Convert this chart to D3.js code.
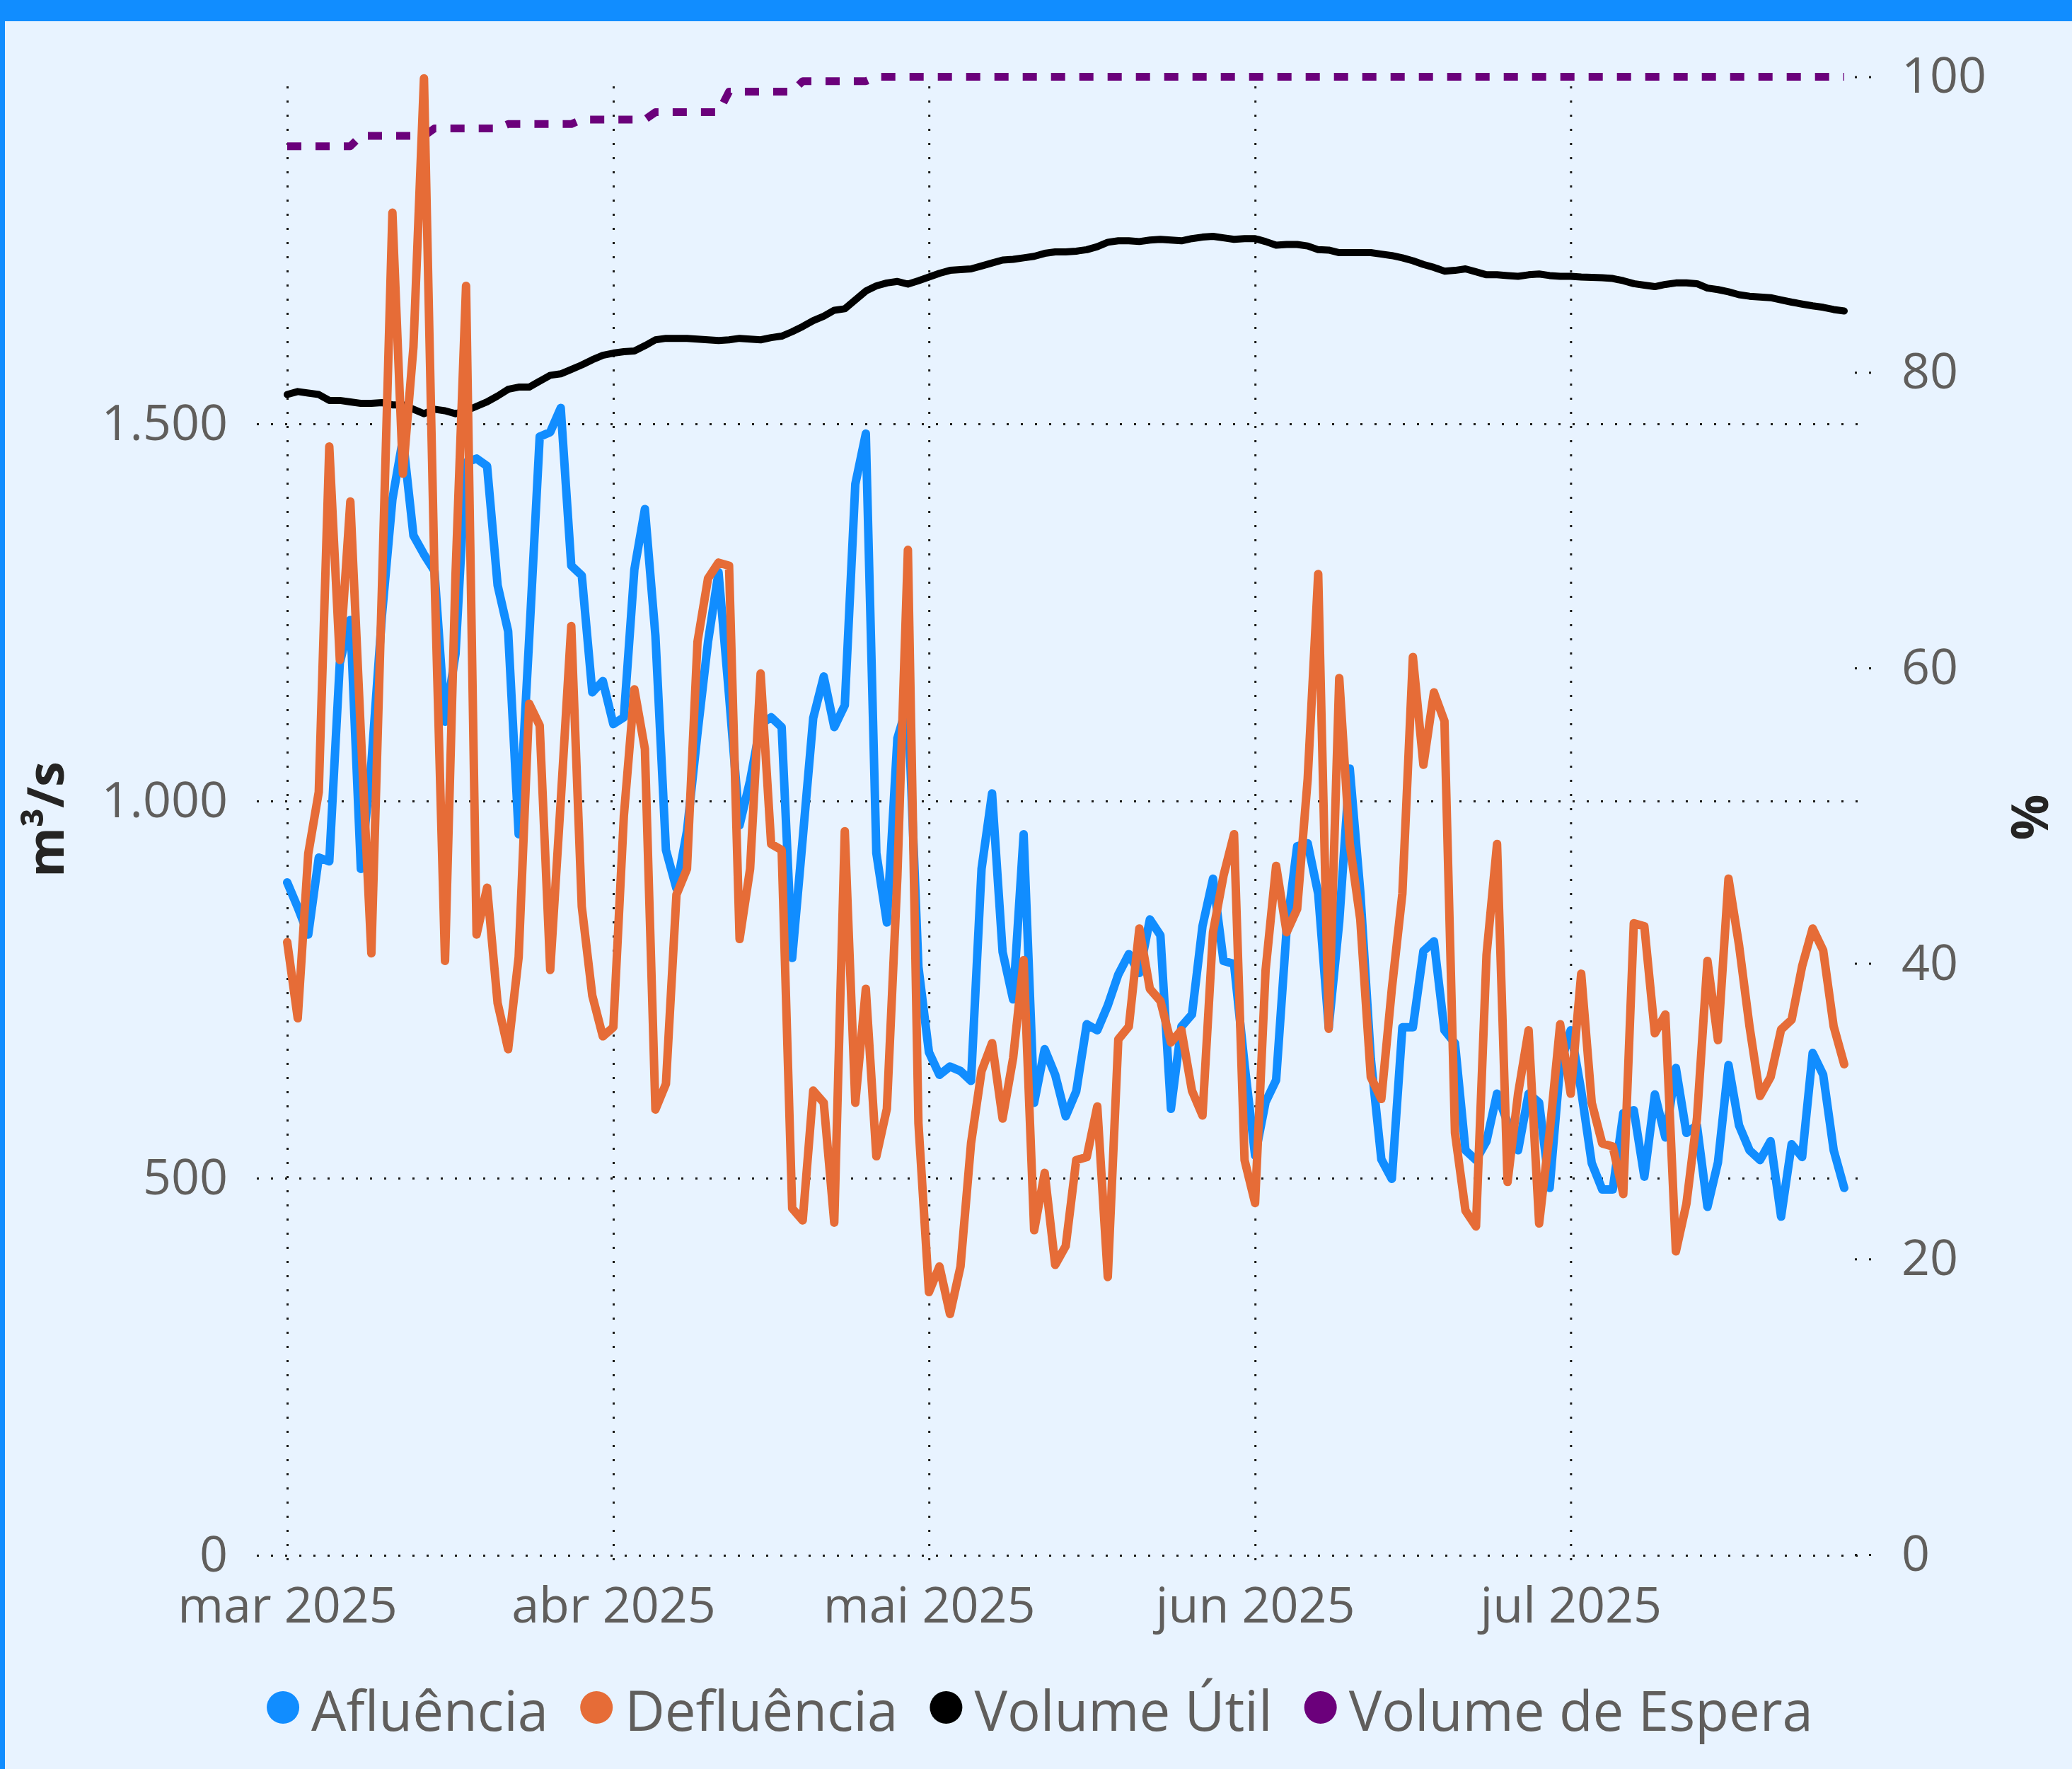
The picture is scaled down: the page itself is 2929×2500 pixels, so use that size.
<!DOCTYPE html>
<html>
<head>
<meta charset="utf-8">
<script src="https://cdn.jsdelivr.net/npm/d3@7"></script>
<style>
    html, body { margin: 0; padding: 0; background: #E8F3FF; }
    svg { display: block; }
    text { font-family: "Segoe UI", "Open Sans", sans-serif; }
</style>
</head>
<body>
<svg id="chart" width="2929" height="2500"></svg>
<script>
var startDay = "2025-03-01";

var afluencia = [
    892, 859, 823, 925, 920, 1183, 1240, 910, 1050, 1245,
    1400, 1480, 1352, 1327, 1305, 1105, 1195, 1449, 1454, 1444,
    1286, 1225, 956, 1215, 1483, 1489, 1521, 1312, 1299, 1144,
    1159, 1102, 1111, 1307, 1387, 1219, 935, 884, 960, 1090,
    1211, 1303, 1140, 968, 1027, 1102, 1111, 1098, 792, 950,
    1110, 1165, 1098, 1127, 1420, 1487, 931, 839, 1083, 1130,
    780, 667, 637, 648, 642, 629, 910, 1010, 800, 737,
    956, 600, 671, 637, 582, 615, 704, 696, 729, 770,
    797, 772, 843, 822, 592, 701, 717, 834, 897, 788,
    784, 651, 530, 601, 630, 830, 940, 944, 877, 700,
    840, 1043, 880, 659, 525, 499, 700, 700, 801, 814,
    696, 679, 537, 524, 549, 612, 574, 537, 612, 600,
    487, 650, 696, 616, 520, 485, 485, 586, 590, 502,
    611, 554, 646, 560, 570, 462, 521, 650, 570, 537,
    524, 549, 449, 545, 528, 666, 637, 537, 487
];

var defluencia = [
    813, 712, 930, 1012, 1470, 1187, 1397, 1090, 798, 1280,
    1780, 1434, 1602, 1958, 1300, 788, 1300, 1683, 823, 885,
    732, 671, 793, 1129, 1100, 776, 1000, 1232, 860, 742,
    688, 700, 980, 1148, 1069, 591, 625, 876, 910, 1211,
    1295, 1316, 1312, 817, 910, 1169, 943, 935, 460, 444,
    616, 600, 441, 960, 600, 751, 529, 592, 900, 1333,
    573, 349, 383, 320, 383, 546, 642, 679, 579, 659,
    789, 431, 507, 385, 410, 524, 528, 595, 369, 684,
    701, 831, 751, 735, 680, 696, 616, 583, 826, 901,
    956, 524, 467, 776, 914, 826, 857, 1029, 1301, 698,
    1163, 943, 843, 634, 605, 751, 877, 1191, 1048, 1144,
    1106, 560, 457, 436, 796, 943, 495, 612, 696, 440,
    561, 704, 612, 771, 600, 546, 542, 479, 838, 834,
    692, 717, 403, 466, 579, 788, 683, 897, 809, 701,
    609, 634, 697, 710, 781, 831, 802, 701, 651
];

var volumeUtil = [
    78.5, 78.7, 78.6, 78.5, 78.1, 78.1, 78.0, 77.9, 77.9, 77.95,
    77.8, 77.8, 77.5, 77.2, 77.5, 77.4, 77.2, 77.4, 77.7, 78.0,
    78.4, 78.85, 79.0, 79.0, 79.4, 79.8, 79.9, 80.2, 80.5, 80.85,
    81.15, 81.3, 81.4, 81.45, 81.8, 82.2, 82.3, 82.3, 82.3, 82.25,
    82.2, 82.15, 82.2, 82.3, 82.25, 82.2, 82.35, 82.45, 82.75, 83.1,
    83.5, 83.8, 84.2, 84.3, 84.9, 85.5, 85.85, 86.05, 86.15, 85.97,
    86.2, 86.45, 86.7, 86.9, 86.95, 87.0, 87.2, 87.4, 87.6, 87.65,
    87.75, 87.85, 88.05, 88.15, 88.15, 88.2, 88.3, 88.5, 88.8, 88.9,
    88.9, 88.85, 88.95, 89.0, 88.95, 88.9, 89.05, 89.15, 89.2, 89.1,
    89.0, 89.05, 89.05, 88.85, 88.6, 88.65, 88.65, 88.55, 88.3, 88.27,
    88.1, 88.1, 88.1, 88.1, 88.0, 87.9, 87.75, 87.55, 87.3, 87.1,
    86.85, 86.9, 87.0, 86.8, 86.6, 86.6, 86.55, 86.5, 86.6, 86.65,
    86.55, 86.5, 86.5, 86.45, 86.42, 86.4, 86.35, 86.2, 86.0, 85.9,
    85.8, 85.95, 86.05, 86.05, 86.0, 85.7, 85.6, 85.45, 85.25, 85.15,
    85.1, 85.05, 84.9, 84.75, 84.62, 84.5, 84.4, 84.25, 84.15
];

var volumeEspera = [
    95.3, 95.3, 95.3, 95.3, 95.3, 95.3, 95.3,
    96.0, 96.0, 96.0, 96.0, 96.0, 96.0, 96.0,
    96.5, 96.5, 96.5, 96.5, 96.5, 96.5, 96.5,
    96.8, 96.8, 96.8, 96.8, 96.8, 96.8, 96.8,
    97.1, 97.1, 97.1, 97.1, 97.1, 97.1, 97.1,
    97.6, 97.6, 97.6, 97.6, 97.6, 97.6, 97.6,
    99.0, 99.0, 99.0, 99.0, 99.0, 99.0, 99.0,
    99.7, 99.7, 99.7, 99.7, 99.7, 99.7, 99.7,
    100, 100, 100, 100, 100, 100, 100, 100, 100, 100,
    100, 100, 100, 100, 100, 100, 100, 100, 100, 100,
    100, 100, 100, 100, 100, 100, 100, 100, 100, 100,
    100, 100, 100, 100, 100, 100, 100, 100, 100, 100,
    100, 100, 100, 100, 100, 100, 100, 100, 100, 100,
    100, 100, 100, 100, 100, 100, 100, 100, 100, 100,
    100, 100, 100, 100, 100, 100, 100, 100, 100, 100,
    100, 100, 100, 100, 100, 100, 100, 100, 100, 100,
    100, 100, 100, 100, 100, 100, 100, 100, 100, 100,
    100, 100, 100
];

var monthTicks = [ "2025-03-01", "2025-04-01", "2025-05-01", "2025-06-01", "2025-07-01" ];
var monthLabels = [ "mar 2025", "abr 2025", "mai 2025", "jun 2025", "jul 2025" ];
var flowTicks = [ 0, 500, 1000, 1500 ];
var pctTicks = [ 0, 20, 40, 60, 80, 100 ];
var seriesNames = [ "Afluência", "Defluência", "Volume Útil", "Volume de Espera" ];
var seriesColors = [ "#118DFF", "#E66C37", "#000000", "#6B007B" ];

var Chart = function( svg ) {
    var parse = d3.timeParse( "%Y-%m-%d" ),
        start = parse( startDay ),
        plot = { left: 363, right: 2630, top: 120, bottom: 2205 },
        x, yFlow, yPct, ptBR;

    function init() {
        ptBR = d3.formatLocale( { decimal: ",", thousands: ".", grouping: [ 3 ], currency: [ "R$", "" ] } );

        x = d3.scaleTime()
            .domain( [ start, d3.timeDay.offset( start, afluencia.length - 1 ) ] )
            .range( [ 406, 2607 ] );
        yFlow = d3.scaleLinear().domain( [ 0, 1500 ] ).range( [ 2198, 599 ] );
        yPct = d3.scaleLinear().domain( [ 0, 100 ] ).range( [ 2197, 108.5 ] );

        drawFrame();
        drawGrid();
        drawAxes();
        drawLines();
        drawLegend();
    }

    function drawFrame() {
        svg.append( "rect" ).attr( "width", 2929 ).attr( "height", 2500 ).attr( "fill", "#E8F3FF" );
        svg.append( "rect" ).attr( "width", 2929 ).attr( "height", 30 ).attr( "fill", "#118DFF" );
        svg.append( "rect" ).attr( "width", 7 ).attr( "height", 2500 ).attr( "fill", "#118DFF" );
    }

    function dotted( g ) {
        g.select( ".domain" ).remove();
        g.selectAll( ".tick line" )
            .attr( "stroke", "#1a1a1a" )
            .attr( "stroke-width", 3 )
            .attr( "stroke-dasharray", "3,17" );
    }

    function drawGrid() {
        svg.append( "g" )
            .attr( "transform", "translate(" + plot.left + ",0)" )
            .call( d3.axisLeft( yFlow ).tickValues( flowTicks ).tickFormat( "" )
                .tickSize( -( plot.right - plot.left ) ) )
            .call( dotted );

        svg.append( "g" )
            .attr( "transform", "translate(0," + plot.bottom + ")" )
            .call( d3.axisBottom( x ).tickValues( monthTicks.map( parse ) ).tickFormat( "" )
                .tickSize( -( plot.bottom - plot.top ) ) )
            .call( dotted );
    }

    function drawAxes() {
        var left, right, bottom;

        left = svg.append( "g" )
            .attr( "transform", "translate(" + plot.left + ",0)" )
            .call( d3.axisLeft( yFlow ).tickValues( flowTicks ).tickSize( 0 ).tickPadding( 41 )
                .tickFormat( ptBR.format( ",d" ) ) );

        right = svg.append( "g" )
            .attr( "transform", "translate(2622,0)" )
            .call( d3.axisRight( yPct ).tickValues( pctTicks ).tickSize( 28 ).tickPadding( 38 ) )
            .call( dotted );

        bottom = svg.append( "g" )
            .attr( "transform", "translate(0," + plot.bottom + ")" )
            .call( d3.axisBottom( x ).tickValues( monthTicks.map( parse ) ).tickSize( 0 ).tickPadding( 38 )
                .tickFormat( function( d, i ) { return monthLabels[ i ]; } ) );

        [ left, right, bottom ].forEach( function( g ) {
            g.select( ".domain" ).remove();
            g.selectAll( "text" )
                .attr( "fill", "#605E5C" )
                .style( "font-size", "70px" )
                .style( "font-family", "'Segoe UI', 'Open Sans', sans-serif" );
        });

        svg.append( "text" )
            .attr( "transform", "translate(90,1158) rotate(-90)" )
            .attr( "text-anchor", "middle" )
            .attr( "fill", "#252423" )
            .style( "font-size", "72px" )
            .style( "font-weight", "bold" )
            .text( "m³/s" );

        svg.append( "text" )
            .attr( "transform", "translate(2895,1155) rotate(-90)" )
            .attr( "text-anchor", "middle" )
            .attr( "fill", "#252423" )
            .style( "font-size", "72px" )
            .style( "font-weight", "bold" )
            .text( "%" );
    }

    function drawLine( values, scale, color, width, dash ) {
        var line = d3.line()
            .x( function( d, i ) { return x( d3.timeDay.offset( start, i ) ); } )
            .y( function( d ) { return scale( d ); } );

        svg.append( "path" )
            .datum( values )
            .attr( "d", line )
            .attr( "fill", "none" )
            .attr( "stroke", color )
            .attr( "stroke-width", width )
            .attr( "stroke-linejoin", "round" )
            .attr( "stroke-linecap", dash ? "butt" : "round" )
            .attr( "stroke-dasharray", dash || null );
    }

    function drawLines() {
        drawLine( volumeEspera, yPct, seriesColors[ 3 ], 11, "20,20" );
        drawLine( volumeUtil, yPct, seriesColors[ 2 ], 10 );
        drawLine( afluencia, yFlow, seriesColors[ 0 ], 12 );
        drawLine( defluencia, yFlow, seriesColors[ 1 ], 12 );
    }

    function drawLegend() {
        var legend = svg.append( "g" ), cursor = 0, items;

        items = legend.selectAll( "g" )
            .data( seriesNames )
            .enter()
            .append( "g" );

        items.append( "circle" )
            .attr( "r", 23 )
            .attr( "cy", -33 )
            .attr( "fill", function( d, i ) { return seriesColors[ i ]; } );

        items.append( "text" )
            .attr( "x", 40 )
            .attr( "fill", "#605E5C" )
            .style( "font-size", "78px" )
            .text( function( d ) { return d; } );

        items.each( function() {
            var item = d3.select( this ),
                w = item.select( "text" ).node().getComputedTextLength();
            item.attr( "transform", "translate(" + cursor + ",0)" );
            cursor += 40 + w + 68;
        });

        cursor -= 68;
        legend.attr( "transform", "translate(" + ( 1470 - ( cursor + 23 ) / 2 + 23 ) + ",2446)" );
    }

    init();
};

Chart( d3.select( "#chart" ) );
</script>
</body>
</html>
